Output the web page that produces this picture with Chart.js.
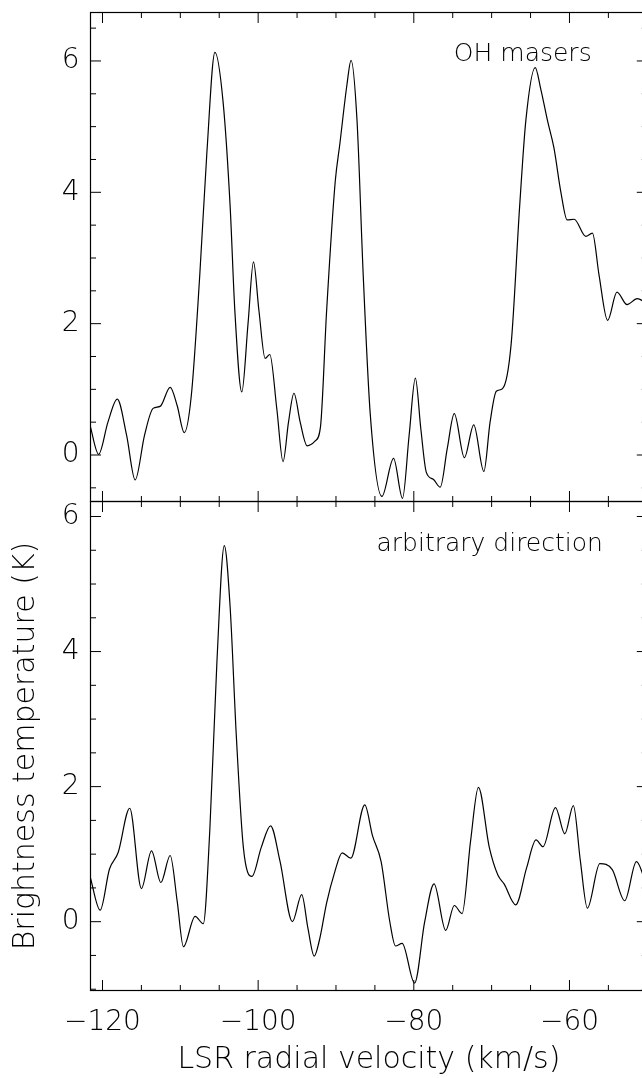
<!DOCTYPE html>
<html>
<head>
<meta charset="utf-8">
<title>OH masers spectrum</title>
<script src="https://cdn.jsdelivr.net/npm/chart.js@4.4.1/dist/chart.umd.min.js"></script>
<style>
  html, body { margin: 0; padding: 0; background: #fff; overflow: hidden; }
  #spec { position: absolute; left: 0; top: 0; }
</style>
</head>
<body>
<canvas id="spec" width="660" height="1078"></canvas>
<script>
// LSR velocity (km/s) and brightness temperature (K)
const velOH = [-121.6, -120.5, -119.3, -118.1, -116.9, -115.8, -114.6, -113.5, -112.6, -111.3,
  -110.4, -109.5, -108.6, -107.5, -106.6, -105.55, -104.5, -103.6, -103.0, -102.1,
  -101.3, -100.6, -99.9, -99.1, -98.5, -97.6, -96.8, -96.1, -95.4, -94.6,
  -93.7, -92.7, -92.0, -91.2, -90.1, -89.5, -88.6, -88.06, -87.3, -86.5,
  -85.6, -84.1, -82.6, -81.45, -80.6, -79.8, -79.1, -78.4, -77.5, -76.6,
  -75.7, -74.8, -73.5, -72.3, -71.0, -70.2, -69.4, -68.6, -67.5, -66.4,
  -65.6, -64.4, -63.7, -62.8, -62.0, -61.1, -60.3, -59.4, -57.9, -57.05,
  -56.2, -55.1, -53.9, -52.6, -51.3, -50.0];
const tempOH = [0.45, 0.01, 0.5, 0.85, 0.3, -0.38, 0.3, 0.71, 0.74, 1.03,
  0.75, 0.34, 0.89, 2.74, 4.58, 6.13, 5.37, 3.79, 2.21, 0.96,
  2.0, 2.94, 2.2, 1.47, 1.53, 0.7, -0.1, 0.5, 0.94, 0.5,
  0.14, 0.21, 0.42, 2.2, 4.16, 4.74, 5.63, 6.01, 5.1, 2.74,
  0.63, -0.63, -0.05, -0.66, 0.3, 1.17, 0.4, -0.26, -0.37, -0.49,
  0.1, 0.63, -0.04, 0.46, -0.25, 0.5, 0.97, 1.01, 1.68, 3.79,
  5.1, 5.9, 5.58, 5.08, 4.68, 4.0, 3.58, 3.59, 3.33, 3.38,
  2.74, 2.05, 2.48, 2.29, 2.38, 2.3];

const velArb = [-121.6, -120.3, -119.1, -118.0, -116.5, -115.0, -113.7, -112.5, -111.3, -110.4,
  -109.6, -108.1, -107.05, -106.2, -105.3, -104.35, -103.6, -102.8, -101.9, -100.8,
  -99.6, -98.4, -97.2, -95.6, -94.4, -93.6, -92.8, -92.1, -91.2, -90.2,
  -89.2, -88.1, -86.3, -85.3, -84.2, -83.1, -82.35, -81.5, -79.9, -78.6,
  -77.4, -75.9, -74.8, -73.8, -72.7, -71.7, -70.3, -69.2, -68.4, -66.9,
  -65.5, -64.3, -63.4, -61.8, -60.6, -59.5, -58.6, -57.7, -56.1, -54.5,
  -52.9, -51.4, -50.0];
const tempArb = [0.67, 0.17, 0.78, 1.02, 1.68, 0.49, 1.05, 0.58, 0.98, 0.3,
  -0.37, 0.08, -0.03, 1.38, 3.84, 5.57, 4.66, 2.74, 1.1, 0.67,
  1.1, 1.42, 0.9, 0.0, 0.4, -0.1, -0.51, -0.26, 0.28, 0.72,
  1.02, 0.94, 1.73, 1.27, 0.89, 0.01, -0.36, -0.32, -0.91, 0.0,
  0.56, -0.13, 0.24, 0.12, 1.2, 1.99, 1.1, 0.69, 0.56, 0.25,
  0.8, 1.21, 1.11, 1.69, 1.3, 1.72, 0.9, 0.2, 0.86, 0.77,
  0.31, 0.89, 0.5];

const xRange = [-121.54, -50];
const yRangeOH = [-0.708, 6.738];
const yRangeArb = [-1.019, 6.222];
const xLabelStep = 20, xMinorStep = 5;
const yLabelStep = 2, yMinorStep = 0.5;

const panelLabels = [
  { text: 'OH masers', axis: 'yTop', x: -66.0, y: 6.1 },
  { text: 'arbitrary direction', axis: 'yBot', x: -70.25, y: 5.58 }
];

const FONT = "'DejaVu Sans', 'Liberation Sans', sans-serif";
Chart.defaults.color = '#000';
Chart.defaults.font.family = FONT;
Chart.defaults.font.weight = '200';

const onStep = (v, step) => Math.abs(v / step - Math.round(v / step)) < 1e-6;
const toPts = (xs, ys) => xs.map((x, i) => ({ x, y: ys[i] }));

// frame + inward ticks on all four sides of each panel, IDL style
const frameTicks = {
  id: 'frameTicks',
  afterDraw(chart) {
    const ctx = chart.ctx;
    const xs = chart.scales.x;
    ctx.save();
    ctx.strokeStyle = '#000';
    ['yTop', 'yBot'].forEach(id => {
      const ys = chart.scales[id];
      const l = xs.left, r = xs.right, t = ys.top, b = ys.bottom;
      ctx.lineWidth = 1.2;
      ctx.strokeRect(l, t, r - l, b - t);
      ctx.lineWidth = 1;
      ctx.beginPath();
      xs.ticks.forEach(tk => {
        const px = xs.getPixelForValue(tk.value);
        if (px <= l + 0.5 || px >= r - 0.5) return;
        const len = tk.label ? 10.5 : 5.5;
        ctx.moveTo(px, b); ctx.lineTo(px, b - len);
        ctx.moveTo(px, t); ctx.lineTo(px, t + len);
      });
      ys.ticks.forEach(tk => {
        const py = ys.getPixelForValue(tk.value);
        if (py <= t + 0.5 || py >= b - 0.5) return;
        const len = tk.label ? 10.5 : 5.5;
        ctx.moveTo(l, py); ctx.lineTo(l + len, py);
        ctx.moveTo(r, py); ctx.lineTo(r - len, py);
      });
      ctx.stroke();
    });
    ctx.restore();
  }
};

const panelText = {
  id: 'panelText',
  afterDraw(chart) {
    const ctx = chart.ctx;
    ctx.save();
    ctx.fillStyle = '#000';
    ctx.font = `200 25px ${FONT}`;
    ctx.textAlign = 'center';
    ctx.textBaseline = 'middle';
    panelLabels.forEach(p => {
      const px = chart.scales.x.getPixelForValue(p.x);
      const py = chart.scales[p.axis].getPixelForValue(p.y);
      ctx.fillText(p.text, px, py);
    });
    ctx.restore();
  }
};

// keep tick labels from pushing the plot frame around
const noLabelPadding = s => {
  s.paddingTop = 0; s.paddingBottom = 0; s.paddingLeft = 0; s.paddingRight = 0;
};

const yAxis = (range, title) => ({
  type: 'linear',
  position: 'left',
  stack: 'panels',
  stackWeight: 1,
  min: range[0],
  max: range[1],
  grid: { display: false, drawTicks: false },
  border: { display: false },
  ticks: {
    stepSize: yMinorStep,
    includeBounds: false,
    autoSkip: false,
    padding: 11,
    font: { size: 28 },
    callback: v => onStep(v, yLabelStep) ? String(Math.round(v)) : ''
  },
  title: {
    display: !!title,
    text: title,
    font: { size: 30 },
    padding: { top: 8, bottom: 0 }
  },
  afterFit: s => { s.width = 90.5; noLabelPadding(s); }
});

const lineStyle = {
  borderColor: '#000',
  backgroundColor: '#000',
  borderWidth: 1.2,
  pointRadius: 0,
  fill: false,
  cubicInterpolationMode: 'monotone'
};

new Chart(document.getElementById('spec'), {
  type: 'line',
  data: {
    datasets: [
      { label: 'OH masers', data: toPts(velOH, tempOH), yAxisID: 'yTop', ...lineStyle },
      { label: 'arbitrary direction', data: toPts(velArb, tempArb), yAxisID: 'yBot', ...lineStyle }
    ]
  },
  options: {
    responsive: false,
    animation: false,
    layout: { padding: { left: 0, top: 12.5, right: 12.7, bottom: 0 } },
    plugins: {
      legend: { display: false },
      tooltip: { enabled: false },
      colors: { enabled: false }
    },
    scales: {
      x: {
        type: 'linear',
        position: 'bottom',
        min: xRange[0],
        max: xRange[1],
        grid: { display: false, drawTicks: false },
        border: { display: false },
        ticks: {
          stepSize: xMinorStep,
          includeBounds: false,
          autoSkip: false,
          maxRotation: 0,
          padding: 15,
          font: { size: 28 },
          callback: v => onStep(v, xLabelStep) ? (v < 0 ? '\u2212' : '') + Math.abs(Math.round(v)) : ''
        },
        title: {
          display: true,
          text: 'LSR radial velocity (km/s)',
          font: { size: 30 },
          padding: { top: 0, bottom: 0 }
        },
        afterFit: s => { s.height = 87.5; noLabelPadding(s); }
      },
      // stacked axes are laid out bottom-up, so the lower panel comes first
      yBot: yAxis(yRangeArb, 'Brightness temperature (K)'),
      yTop: yAxis(yRangeOH, '')
    }
  },
  plugins: [frameTicks, panelText]
});
</script>
</body>
</html>
